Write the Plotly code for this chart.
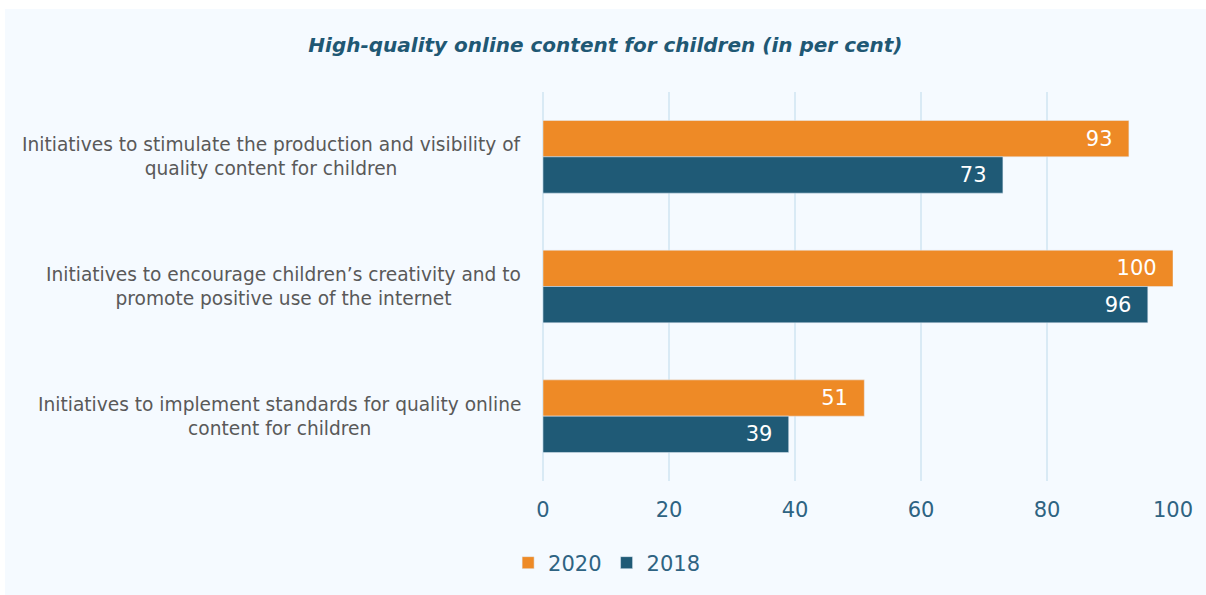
import plotly.graph_objects as go

# Data
categories = [
    "Initiatives to stimulate the production and visibility of<br>quality content for children",
    "Initiatives to encourage children\u2019s creativity and to<br>promote positive use of the internet",
    "Initiatives to implement standards for quality online<br>content for children",
]
values_2020 = [93, 100, 51]
values_2018 = [73, 96, 39]
x_ticks = [0, 20, 40, 60, 80, 100]

ORANGE = "#ee8a26"
TEAL = "#1f5a76"
PANEL = "#f5faff"
GRID = "#d9eaf5"
TICK_COLOR = "#2e6382"
FONT = "'DejaVu Sans', sans-serif"

fig = go.Figure()

for name, vals, color in [("2020", values_2020, ORANGE), ("2018", values_2018, TEAL)]:
    fig.add_trace(go.Bar(
        y=categories,
        x=vals,
        name=name,
        orientation="h",
        marker_color=color,
        text=[f"{v}\u00a0\u00a0" for v in vals],
        textposition="inside",
        insidetextanchor="end",
        textfont=dict(color="white", size=21, family=FONT),
        cliponaxis=False,
    ))

# Category labels as centred multi-line annotations
for cat in categories:
    fig.add_annotation(
        x=-0.032, xref="paper", y=cat, yref="y",
        text=cat, showarrow=False, xanchor="right", align="center",
        font=dict(size=18.6, color="#595959", family=FONT),
    )

# light panel behind the chart
fig.add_shape(
    type="rect", xref="paper", yref="paper", layer="below",
    x0=-0.854, x1=1.06, y0=-0.3, y1=1.2134,
    fillcolor=PANEL, line_width=0,
)

fig.update_layout(
    width=1206,
    height=595,
    margin=dict(l=543, r=33, t=92, b=114),
    paper_bgcolor="white",
    plot_bgcolor=PANEL,
    barmode="group",
    bargap=0.44,
    bargroupgap=0,
    title=dict(
        text="<b><i>High-quality online content for children (in per cent)</i></b>",
        x=0.502, xref="container", xanchor="center",
        y=1 - 45 / 595, yref="container", yanchor="middle",
        font=dict(size=20, color="#1f5874", family=FONT),
    ),
    xaxis=dict(
        range=[0, 100],
        tickvals=x_ticks,
        showgrid=True,
        gridcolor=GRID,
        gridwidth=2,
        zeroline=True,
        zerolinecolor=GRID,
        zerolinewidth=2,
        showline=False,
        ticks="",
        ticklabelstandoff=14,
        tickfont=dict(size=21, color=TICK_COLOR, family=FONT),
    ),
    yaxis=dict(
        autorange="reversed",
        showticklabels=False,
        showgrid=False,
        zeroline=False,
        ticks="",
    ),
    legend=dict(
        orientation="h",
        xref="container", x=0.503, xanchor="center",
        yref="container", y=1 - 563 / 595, yanchor="middle",
        font=dict(size=21, color=TICK_COLOR, family=FONT),
        bgcolor="rgba(0,0,0,0)",
        itemwidth=30,
    ),
    showlegend=True,
)

fig.write_html("out.html", config={"displayModeBar": False},
               post_script="document.body.style.margin='0';")
